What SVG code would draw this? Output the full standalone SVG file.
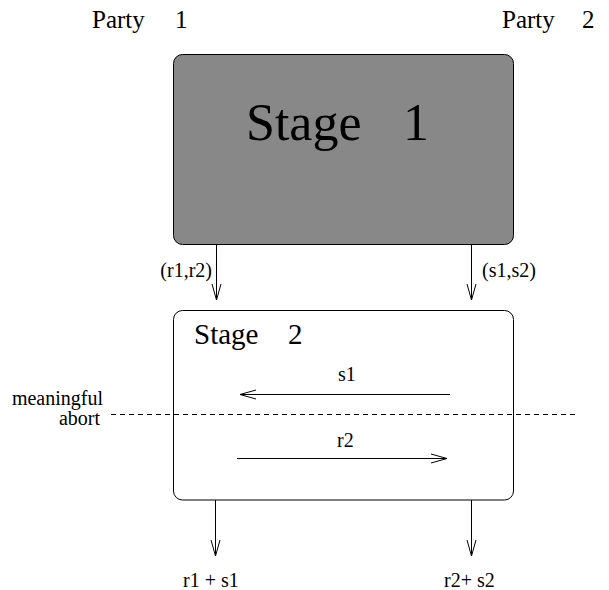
<svg xmlns="http://www.w3.org/2000/svg" width="609" height="590" viewBox="0 0 609 590">
<style>
text{font-family:"Liberation Serif","Times New Roman",serif;fill:#000}
.lbl{font-size:20px}
.party{font-size:25px}
.ln{stroke:#000;stroke-width:1;fill:none}
</style>
<defs>
<marker id="ah" markerUnits="userSpaceOnUse" markerWidth="20" markerHeight="12" refX="16" refY="5" orient="auto" overflow="visible">
<path d="M0,0.5 L16,5 L0,9.5" fill="none" stroke="#000" stroke-width="1"/>
</marker>
</defs>
<rect width="609" height="590" fill="#fff"/>
<g id="party1"><text class="party" x="92" y="28">Party <tspan x="175">1</tspan></text></g>
<g id="party2"><text class="party" x="502" y="28">Party <tspan x="582">2</tspan></text></g>
<g id="stage1">
<rect x="173.5" y="54.5" width="340" height="190" rx="9" fill="#888" stroke="#000" stroke-width="1"/>
<text x="246" y="140" font-size="52">Stage <tspan x="403">1</tspan></text>
</g>
<g id="stage2">
<rect x="173.5" y="310.5" width="340" height="189.5" rx="9" fill="#fff" stroke="#000" stroke-width="1"/>
<text x="194" y="344" font-size="29">Stage <tspan x="288">2</tspan></text>
</g>
<g id="abort">
<text class="lbl" x="103" y="405" text-anchor="end">meaningful</text>
<text class="lbl" x="100" y="425" text-anchor="end">abort</text>
</g>
<g id="connectors">
<line class="ln" x1="111" y1="414.5" x2="576" y2="414.5" stroke-dasharray="5 4"/>
<line class="ln" x1="216.5" y1="244" x2="216.5" y2="300" marker-end="url(#ah)"/>
<line class="ln" x1="471.5" y1="244" x2="471.5" y2="300" marker-end="url(#ah)"/>
<line class="ln" x1="450" y1="394.5" x2="240" y2="394.5" marker-end="url(#ah)"/>
<line class="ln" x1="237" y1="458.5" x2="447" y2="458.5" marker-end="url(#ah)"/>
<line class="ln" x1="215.5" y1="500" x2="215.5" y2="556" marker-end="url(#ah)"/>
<line class="ln" x1="471.5" y1="500" x2="471.5" y2="556" marker-end="url(#ah)"/>
</g>
<g id="labels">
<text class="lbl" x="212" y="277" text-anchor="end">(r1,r2)</text>
<text class="lbl" x="482" y="277">(s1,s2)</text>
<text class="lbl" x="338" y="381">s1</text>
<text class="lbl" x="337" y="447">r2</text>
<text class="lbl" x="183" y="587">r1 + s1</text>
<text class="lbl" x="444" y="587">r2+ s2</text>
</g>
</svg>
